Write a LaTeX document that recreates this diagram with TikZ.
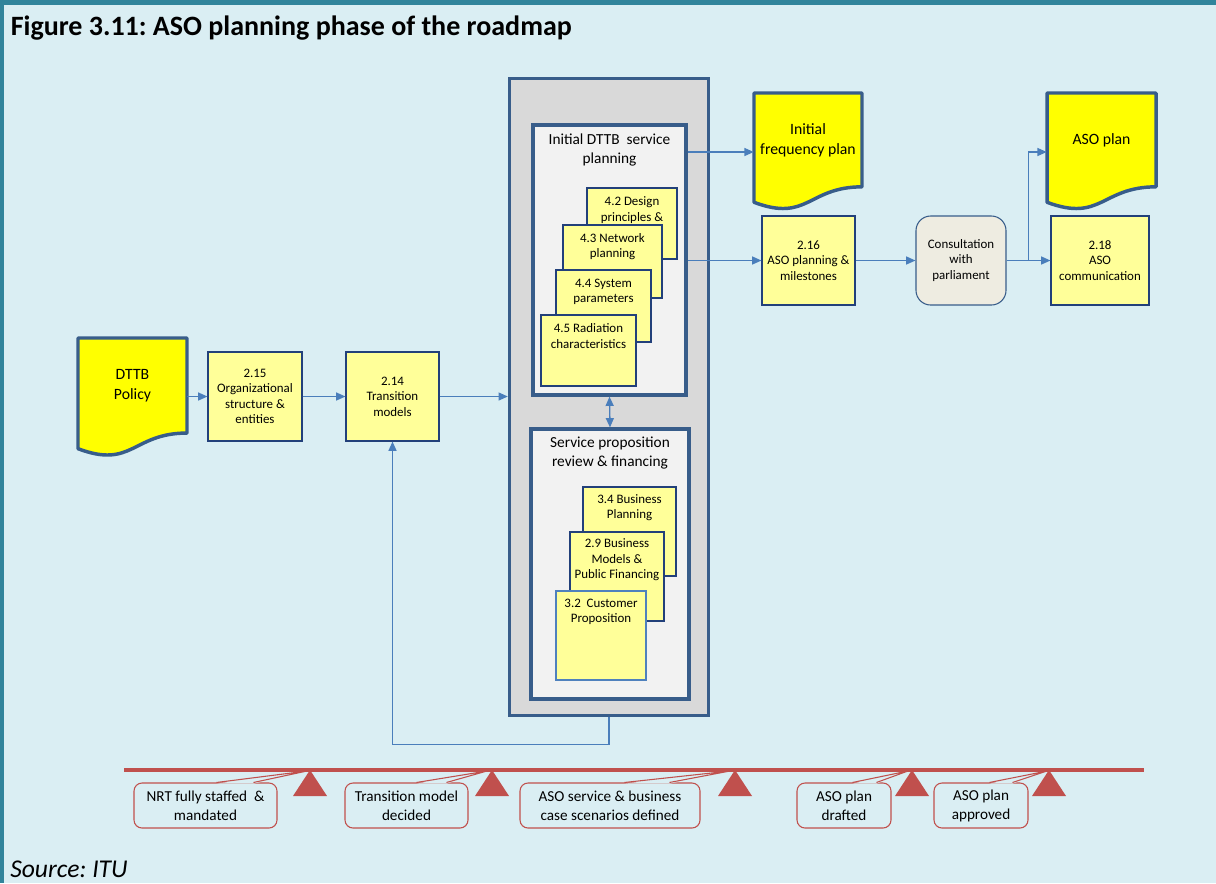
\documentclass[tikz,border=0pt]{standalone}
\usepackage{fontspec}
\setmainfont{Carlito}
\usetikzlibrary{arrows.meta,calc}
\frenchspacing
\definecolor{bgc}{HTML}{DAEEF3}
\definecolor{barc}{HTML}{31849B}
\definecolor{framec}{HTML}{385D8A}
\definecolor{grayf}{HTML}{D9D9D9}
\definecolor{innf}{HTML}{F2F2F2}
\definecolor{ylw}{HTML}{FFFF99}
\definecolor{docy}{HTML}{FFFF00}
\definecolor{arrc}{HTML}{4A7EBB}
\definecolor{redc}{HTML}{C0504D}
\definecolor{consf}{HTML}{EEECE1}
\definecolor{navyc}{HTML}{22407A}
\definecolor{lblue}{HTML}{4F81BD}
\newcommand\myfsmall{\fontsize{9.7}{11.6}\selectfont}
\newcommand\myfdoc{\fontsize{11.8}{15}\selectfont}
\newcommand\myfttl{\fontsize{11.5}{14.3}\selectfont}
\newcommand\myfcall{\fontsize{11.4}{14.3}\selectfont}
\newcommand\mydocshape[4]{%
  \draw[docline] (#1,#2) -- ({#1+#3},#2) -- ({#1+#3},{#2+0.802*#4})
    .. controls ({#1+0.5*#3},{#2+0.802*#4}) and ({#1+0.5*#3},{#2+1.1075*#4}) ..
    (#1,{#2+0.934*#4}) -- cycle;}
\newcommand\mywedge[4]{%
  \fill[bgc] ($(#1.north west)+(#2,1.2)$) -- (#4) -- ($(#1.north west)+(#3,1.2)$) -- cycle;
  \draw[wedgeline] ($(#1.north west)+(#2,0)$) -- (#4) -- ($(#1.north west)+(#3,0)$);}
\begin{document}
\begin{tikzpicture}[x=0.75pt,y=-0.75pt,
  box/.style={draw=navyc, line width=0.8pt, fill=ylw, inner sep=0pt, align=center, font=\myfsmall},
  stk/.style={draw=navyc, line width=0.8pt, fill=ylw, inner sep=0pt},
  stktxt/.style={anchor=north, inner sep=0pt, align=center, font=\myfsmall},
  frame/.style={draw=framec, line width=2.4pt, inner sep=0pt},
  docline/.style={draw=framec, line width=2.6pt, fill=docy, line join=round},
  doctxt/.style={inner sep=0pt, align=center, font=\myfdoc},
  ttl/.style={anchor=north, inner sep=0pt, align=center, font=\myfttl},
  arr/.style={draw=arrc, line width=1pt, -{Triangle[length=7pt,width=6pt]}},
  dblarr/.style={draw=arrc, line width=1pt, {Triangle[length=7pt,width=6pt]}-{Triangle[length=7pt,width=6pt]}},
  callout/.style={draw=redc, line width=0.8pt, rounded corners=6pt, fill=bgc, align=center, font=\myfcall, inner sep=0pt, minimum height=33.75pt},
  wedgeline/.style={draw=redc, line width=0.8pt},
  mile/.style={fill=redc},
  tline/.style={draw=redc, line width=2.3pt}
]
\useasboundingbox (0,0) rectangle (1216,883);
\fill[bgc] (0,0) rectangle (1216,883);
\fill[barc] (0,0) rectangle (1216,4.5);
\fill[barc] (0,0) rectangle (4,883);

\node[anchor=base west, inner sep=0pt, font=\fontsize{21}{24}\selectfont\bfseries] (title) at (10.5,35) {Figure 3.11: ASO planning phase of the roadmap};
\node[anchor=base west, inner sep=0pt, font=\fontsize{19.2}{22}\selectfont\itshape] (source) at (10,877.5) {Source: ITU};

% central frame
\node[frame, fill=grayf, line width=2.5pt, minimum width=149.25pt, minimum height=477.75pt] (gray) at (609,397) {};
\node[frame, fill=innf, minimum width=114.75pt, minimum height=202.5pt] (in1) at (609.5,260) {};
\node[ttl] (in1t) at ($(in1.north)+(0,10.5)$) {Initial DTTB~ service\\planning};
\node[frame, fill=innf, minimum width=118.5pt, minimum height=202.5pt] (in2) at (610,564) {};
\node[ttl] (in2t) at ($(in2.north)+(0,9.5)$) {Service proposition\\review \& financing};

% stacked boxes, planning
\node[stk, minimum width=67.5pt, minimum height=53.25pt] (s42) at (632,223.5) {};
\node[stktxt] (s42t) at ($(s42.north)+(0,9.3)$) {4.2 Design\\principles \&};
\node[stk, minimum width=74.25pt, minimum height=54.75pt] (s43) at (612.5,261.5) {};
\node[stktxt] (s43t) at ($(s43.north)+(0,8.8)$) {4.3 Network\\planning};
\node[stk, minimum width=71.25pt, minimum height=54pt] (s44) at (603.5,306) {};
\node[stktxt] (s44t) at ($(s44.north)+(0,9)$) {4.4 System\\parameters};
\node[stk, minimum width=71.25pt, minimum height=53.25pt] (s45) at (588.5,350.5) {};
\node[stktxt] (s45t) at ($(s45.north)+(0,9)$) {4.5 Radiation\\characteristics};

% stacked boxes, financing
\node[stk, minimum width=69.75pt, minimum height=66.75pt] (s34) at (629.5,531.5) {};
\node[stktxt] (s34t) at ($(s34.north)+(0,7.5)$) {3.4 Business\\Planning};
\node[stk, minimum width=70.5pt, minimum height=66.75pt] (s29) at (617,576.5) {};
\node[stktxt] (s29t) at ($(s29.north)+(0,7.2)$) {2.9 Business\\Models \&\\Public Financing};
\node[stk, draw=lblue, minimum width=67.5pt, minimum height=66.75pt] (s32) at (601,635.5) {};
\node[stktxt] (s32t) at ($(s32.north)+(0,8)$) {3.2~ Customer\\Proposition};

% documents
\mydocshape{78}{338}{109}{118.5}
\node[doctxt, minimum width=81.75pt, minimum height=71.25pt] (dttb) at (132.5,385.5) {DTTB\\Policy};
\mydocshape{754}{93}{108}{117}
\node[doctxt, minimum width=81pt, minimum height=70.4pt] (freq) at (808,140) {Initial\\frequency plan};
\mydocshape{1047}{93}{109}{117}
\node[doctxt, minimum width=81.75pt, minimum height=70.4pt] (aso) at (1101.5,140) {ASO plan};

% process boxes
\node[box, minimum width=70.5pt, minimum height=66.75pt] (b215) at (255,396.5) {2.15\\Organizational\\structure \&\\entities};
\node[box, minimum width=69.75pt, minimum height=66.75pt] (b214) at (392.5,396.5) {2.14\\Transition\\models};
\node[box, minimum width=69.75pt, minimum height=66.75pt] (b216) at (808.5,260.5) {2.16\\ASO planning \&\\milestones};
\node[box, draw=framec, fill=consf, rounded corners=11pt, minimum width=67.5pt, minimum height=66.75pt] (cons) at (961,260.5) {Consultation\\with\\parliament};
\node[box, minimum width=73.5pt, minimum height=66.75pt] (b218) at (1100,260.5) {2.18\\ASO\\communication};

% connectors
\draw[arr] (dttb.east |- b215.west) -- (b215.west);
\draw[arr] (b215.east) -- (b214.west);
\draw[arr] (b214.east) -- (gray.west |- b214.east);
\draw[arr] (gray.south) -- ++(0,27) -| (b214.south);
\draw[dblarr] (in1.south) -- (in2.north);
\draw[arr] ([yshift=-9pt]freq.west -| in1.east) -- ([yshift=-9pt]freq.west);
\draw[arr] (in1.east |- b216.west) -- (b216.west);
\draw[arr] (b216.east) -- (cons.west);
\draw[arr] (cons.east) -- (b218.west);
\draw[arr] (cons.east) -- ++(22,0) |- ([yshift=-9pt]aso.west);

% milestones
\node[callout, minimum width=107.25pt] (c1) at (205.5,805.5) {NRT fully staffed~ \&\\mandated};
\node[callout, minimum width=92.25pt] (c2) at (406.5,805.5) {Transition model\\decided};
\node[callout, minimum width=135pt] (c3) at (610,805.5) {ASO service \& business\\case scenarios defined};
\node[callout, minimum width=70.5pt] (c4) at (844,805.5) {ASO plan\\drafted};
\node[callout, minimum width=70.5pt] (c5) at (981,805.5) {ASO plan\\approved};
\coordinate (p1) at (307,771);
\coordinate (p2) at (487,771);
\coordinate (p3) at (730,771);
\coordinate (p4) at (908,771);
\coordinate (p5) at (1047,771);
\mywedge{c1}{83}{120}{p1}
\mywedge{c2}{72}{102}{p2}
\mywedge{c3}{105}{150}{p3}
\mywedge{c4}{56}{80}{p4}
\mywedge{c5}{56}{79}{p5}
\coordinate (tlA) at (124,770);
\coordinate (tlB) at (1144,770);
\draw[tline] (tlA) -- (tlB);
\coordinate (m1) at (310,770);
\coordinate (m2) at (492,770);
\coordinate (m3) at (735,770);
\coordinate (m4) at (912,770);
\coordinate (m5) at (1049,770);
\foreach \m in {m1,m2,m3,m4,m5}{
  \fill[mile] (\m) -- ($(\m)+(17,26)$) -- ($(\m)+(-17,26)$) -- cycle;
}
\end{tikzpicture}
\end{document}
